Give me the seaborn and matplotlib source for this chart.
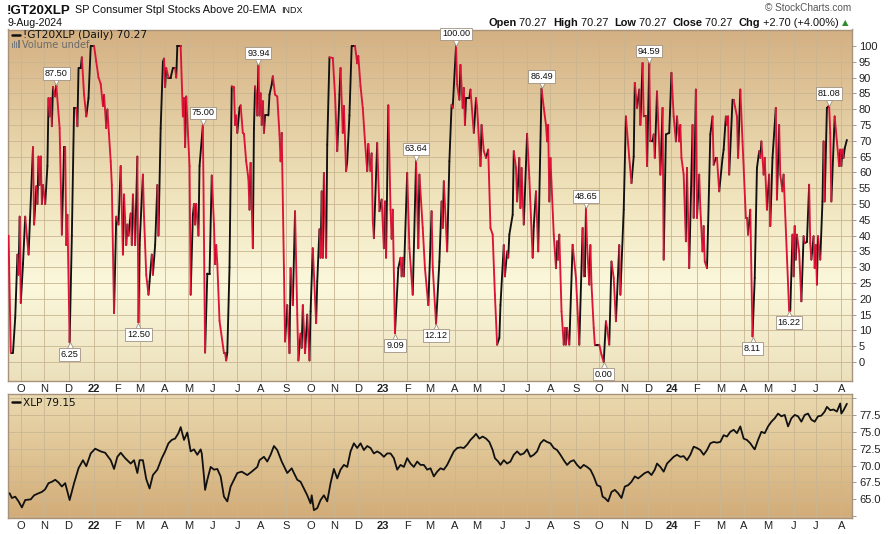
import numpy as np
import pandas as pd
import matplotlib
matplotlib.use("Agg")
import matplotlib.pyplot as plt
import seaborn as sns
from matplotlib.colors import LinearSegmentedColormap
from matplotlib.transforms import offset_copy
from matplotlib.patches import Rectangle
from matplotlib.lines import Line2D

# ---------------- data ----------------
start_date = "2021-09-16"
end_date = "2024-08-09"

gt_session = [0, 2, 4, 6, 8, 9, 10, 11, 13, 15, 18, 22, 23, 25, 26, 27, 28, 29, 30, 31, 33, 35, 36, 37, 38, 39, 40, 42, 43, 46,
              48, 50, 51, 52, 53, 55, 57, 59, 61, 62, 63, 65, 66, 68, 70, 72, 74, 77, 79, 81, 83, 85, 86, 88, 89, 92, 93, 95, 97, 99,
              101, 103, 104, 106, 107, 108, 110, 111, 112, 114, 116, 117, 118, 121, 122, 124, 126, 127, 129, 130, 132, 134, 135, 137, 139, 140, 141, 142, 144, 146,
              148, 150, 151, 152, 155, 157, 158, 159, 160, 163, 164, 166, 167, 168, 169, 171, 172, 175, 177, 179, 181, 183, 185, 186, 187, 188, 190, 194, 195, 196,
              197, 199, 201, 203, 204, 205, 206, 208, 209, 211, 212, 214, 216, 217, 218, 220, 221, 222, 223, 224, 225, 226, 227, 228, 229, 230, 231, 234, 235, 237,
              238, 240, 242, 244, 245, 246, 248, 249, 251, 253, 254, 256, 258, 260, 261, 263, 264, 265, 267, 269, 271, 272, 274, 277, 278, 280, 281, 282, 283, 284,
              286, 287, 289, 292, 294, 296, 298, 299, 301, 302, 304, 305, 307, 309, 312, 314, 315, 317, 319, 321, 323, 324, 326, 327, 328, 329, 332, 334, 336, 338,
              339, 340, 342, 344, 345, 346, 348, 351, 353, 354, 355, 356, 359, 361, 364, 367, 369, 370, 373, 375, 378, 381, 382, 385, 388, 390, 391, 392, 395, 397,
              399, 400, 403, 404, 406, 407, 409, 410, 411, 412, 415, 416, 419, 421, 422, 425, 426, 428, 430, 432, 434, 436, 438, 440, 442, 443, 446, 447, 449, 450,
              451, 454, 455, 457, 458, 460, 461, 462, 464, 467, 469, 472, 473, 475, 477, 480, 482, 484, 485, 486, 487, 488, 491, 493, 494, 495, 496, 498, 500, 501,
              502, 503, 505, 508, 511, 514, 517, 518, 519, 520, 521, 523, 524, 525, 527, 528, 530, 532, 534, 536, 538, 539, 541, 543, 545, 547, 550, 551, 554, 556,
              559, 561, 563, 564, 566, 568, 569, 571, 572, 574, 575, 577, 578, 580, 581, 582, 584, 587, 589, 590, 592, 595, 597, 599, 601, 602, 604, 605, 606, 608,
              610, 611, 613, 616, 617, 619, 620, 622, 623, 625, 626, 627, 629, 630, 632, 634, 635, 637, 638, 640, 643, 644, 646, 647, 648, 649, 652, 653, 656, 657,
              659, 661, 664, 665, 666, 668, 670, 672, 674, 676, 677, 678, 680, 681, 683, 685, 686, 688, 691, 692, 694, 695, 697, 698, 703, 704, 706, 707, 708, 709,
              710, 712, 714, 716, 717, 719, 721, 722, 723, 725, 726, 727, 728, 729, 731, 733, 734, 735, 737, 739, 740, 741, 744, 746, 748, 749, 750, 751, 752, 753, 755]
gt_value = [40, 3, 3, 14, 34, 27.6, 46, 18.7, 31, 46, 34, 68, 43.5, 55.6, 50, 65, 56, 65, 50, 56, 50, 62, 83.5, 77.7, 83.5, 74.6, 87, 84, 87.5, 74,
            40.3, 68, 68, 37, 46.6, 6.25, 40, 80.4, 80.4, 74.6, 93, 93, 96.4, 84.6, 77.7, 83.5, 100, 100, 95, 90, 88, 81, 84.5, 74, 79.9, 63.5, 56, 15.5, 46, 43.5,
            62, 34, 53, 37, 43.5, 40, 47, 37, 53, 37, 65, 12.5, 37, 59.3, 46, 27.6, 21.3, 25.5, 34, 27.6, 37, 56, 40, 74, 95, 96, 87, 93, 90, 90,
            93, 93, 90, 100, 100, 77.7, 83.5, 68, 84, 62, 21.3, 46.6, 50, 43.5, 50, 40, 62, 75, 3, 28, 28, 59, 43.5, 31, 37, 31, 13, 2.8, 2.8, 0.5,
            3, 30, 87.2, 87, 75, 78, 72.5, 80.4, 81.2, 72.5, 72.2, 63.5, 58, 48.2, 63, 36, 74, 87.2, 84.6, 78, 93.94, 78, 85, 75, 82.5, 72.5, 78, 78, 84.6, 87.8,
            90.4, 84.6, 84, 72, 63.5, 72.5, 29.7, 6.5, 18, 2.8, 29.7, 18, 47.7, 15, 0.5, 9, 4.5, 18, 2.8, 15, 0.5, 16, 36, 12.3, 25.5, 42, 33, 54, 33, 59.8,
            33, 68.7, 96.4, 96.2, 84.6, 66.7, 84.6, 93, 72.5, 81, 60.4, 63.5, 78, 100, 100, 94.5, 96.8, 87.2, 80.4, 69.8, 60.4, 69, 60.4, 66, 45, 39.2, 69.3, 47.7, 51.4, 36,
            50.8, 33, 81.2, 48.2, 39, 48.2, 9.09, 29.7, 33, 27.1, 33, 27.1, 59.8, 36, 21.3, 63.64, 36, 59.3, 42.4, 29.7, 18, 47.7, 30, 12.12, 31.8, 50.8, 42.4, 57.2, 35, 63.5,
            81.4, 80.4, 100, 87.8, 83, 94, 80.4, 86.7, 75, 83.5, 83.5, 86.2, 72.5, 83.5, 80.4, 62, 75, 66.7, 64.6, 67.2, 42.4, 40.3, 21.3, 5.5, 7.6, 18, 37, 27.1, 35, 33,
            40.3, 46.6, 66.7, 61.4, 50.8, 64.6, 48.7, 61.4, 43.5, 72.2, 58.2, 33, 43, 54, 35, 86.49, 80.4, 75, 69.8, 75, 50.8, 64.6, 40.3, 29.7, 38.2, 32.4, 40.3, 16, 5.5, 10.8,
            5.5, 10.8, 5.5, 37.1, 26.6, 5.5, 42.4, 27.1, 27.1, 48.65, 37, 24.5, 37, 24.5, 10.8, 5.5, 5.5, 5.5, 2.3, 0, 12.9, 10.8, 5.5, 31.8, 26.6, 12.9, 37, 21.3, 48.2, 77.7,
            64.6, 56.6, 65, 88.3, 80.4, 86.2, 75, 94.6, 77.7, 77.7, 62, 94.59, 69.8, 69.8, 72, 64.6, 85.6, 59.3, 80.4, 32.4, 72, 72.5, 91.5, 77.7, 69.8, 77.7, 69.8, 75, 64.6, 59.3,
            38.2, 61.4, 29.7, 75, 45.6, 86.2, 45.6, 59.3, 48.7, 35, 43, 31.8, 29.7, 43, 72, 77.7, 62.4, 64.6, 64.6, 54, 64.6, 67.2, 77.7, 75, 77.7, 59.3, 83, 83, 77.7, 64.6,
            86.2, 69.8, 45.6, 45.6, 40.3, 48.2, 8.11, 26.6, 61.4, 66.7, 64.6, 69.8, 59.3, 64.6, 48.2, 59.3, 43, 64.6, 80.4, 51.4, 75, 59.3, 54, 59.3, 16.22, 16.2, 40.3, 27.1, 43, 32.4,
            40.3, 35, 19.2, 39.8, 37.6, 38, 56.1, 37.6, 32.4, 39.8, 29.7, 37, 24.5, 39.8, 32.4, 50.8, 69.8, 50.8, 80.4, 81.08, 72.5, 50.8, 77.7, 69.8, 62, 67.2, 62, 67.2, 64.6, 67.57, 70.27]

xlp_session = [1, 3, 6, 9, 12, 15, 20, 23, 27, 30, 33, 36, 39, 42, 45, 48, 51, 55, 59, 63, 67, 70, 74, 78, 83, 87, 92, 95, 98, 101,
               105, 110, 113, 116, 118, 121, 124, 127, 130, 134, 138, 141, 144, 147, 150, 153, 155, 158, 161, 164, 167, 170, 173, 174, 176, 177, 179, 182, 185, 188,
               191, 194, 197, 200, 203, 206, 210, 215, 219, 224, 226, 230, 233, 236, 239, 242, 246, 251, 255, 257, 260, 263, 266, 269, 272, 273, 275, 278, 281, 284,
               287, 290, 293, 296, 299, 302, 305, 308, 311, 314, 317, 320, 323, 326, 329, 332, 335, 338, 341, 344, 347, 350, 353, 356, 359, 362, 365, 368, 371, 374,
               377, 380, 383, 386, 389, 392, 395, 398, 401, 404, 407, 410, 413, 416, 419, 421, 424, 427, 430, 433, 436, 438, 441, 443, 446, 449, 452, 455, 458, 461,
               464, 467, 470, 473, 476, 479, 482, 485, 488, 491, 494, 497, 500, 503, 506, 509, 512, 515, 518, 521, 524, 527, 530, 533, 535, 537, 540, 543, 546, 549,
               552, 555, 558, 561, 564, 567, 570, 573, 576, 579, 582, 584, 587, 590, 593, 596, 599, 602, 605, 608, 611, 614, 617, 620, 623, 626, 629, 632, 635, 638,
               641, 644, 647, 650, 653, 656, 659, 662, 665, 668, 671, 672, 675, 678, 681, 684, 687, 690, 693, 696, 699, 702, 705, 708, 711, 714, 717, 720, 723, 726,
               729, 732, 735, 737, 740, 743, 746, 749, 750, 752, 755]
xlp_value = [65.9, 65.2, 65.4, 64.7, 63.8, 64.9, 65.0, 65.6, 65.9, 66.1, 66.5, 67.4, 67.6, 67.9, 67.5, 66.9, 67.4, 64.9, 67.4, 69.6, 70.8, 69.9, 71.8, 72.5, 72.1, 71.9, 70.8, 69.5, 71.3, 71.9,
             71.1, 70.3, 70.8, 68.9, 70.8, 70.8, 68.0, 66.6, 68.6, 69.4, 71.1, 72.1, 73.3, 73.8, 74.0, 74.8, 75.7, 73.8, 74.9, 72.1, 72.4, 71.6, 72.4, 71.8, 68.4, 66.4, 67.9, 69.8, 69.4, 69.5,
             68.4, 65.4, 64.7, 66.9, 67.9, 68.9, 69.1, 68.6, 69.1, 69.8, 70.8, 71.3, 70.6, 71.6, 72.9, 72.3, 70.6, 68.9, 69.6, 68.9, 67.9, 67.6, 66.6, 65.6, 64.4, 65.6, 63.4, 63.7, 64.9, 65.6,
             64.7, 67.4, 69.5, 68.1, 69.4, 70.1, 69.8, 72.1, 73.3, 72.6, 73.3, 72.3, 72.9, 72.6, 71.8, 72.1, 71.8, 71.3, 71.8, 71.8, 71.1, 69.4, 70.1, 69.8, 71.1, 70.3, 69.8, 70.6, 70.1, 70.1,
             69.4, 69.6, 68.4, 69.1, 69.6, 69.4, 70.1, 71.1, 72.1, 72.6, 72.7, 72.6, 73.1, 73.8, 74.3, 74.7, 74.0, 74.3, 74.0, 73.5, 72.3, 71.1, 70.6, 70.1, 70.8, 70.3, 70.6, 71.6, 72.1, 71.6,
             71.8, 72.4, 71.3, 71.6, 72.1, 73.3, 73.8, 73.5, 73.3, 72.6, 72.3, 71.6, 70.8, 70.1, 70.6, 70.8, 70.1, 69.6, 70.1, 69.8, 69.4, 68.4, 67.1, 66.9, 65.4, 65.2, 64.7, 66.1, 66.4, 65.9,
             65.2, 66.9, 67.1, 67.6, 68.4, 68.1, 68.5, 68.9, 69.1, 68.6, 69.4, 70.3, 69.8, 69.1, 70.3, 70.8, 71.3, 71.6, 71.3, 71.4, 70.8, 71.6, 72.8, 72.6, 72.3, 71.6, 72.3, 73.3, 73.5, 73.4,
             73.5, 74.5, 74.3, 75.0, 75.3, 74.8, 75.8, 74.0, 73.8, 73.3, 72.6, 72.4, 73.8, 75.0, 74.8, 75.8, 76.5, 77.0, 77.7, 77.3, 77.5, 75.8, 77.0, 77.5, 77.3, 76.5, 77.5, 77.7, 76.8, 76.5,
             77.3, 77.4, 78.0, 78.7, 78.2, 78.3, 78.0, 79.2, 77.7, 78.2, 79.15]

label_session = [43, 55, 117, 175, 225, 348, 367, 385, 403, 480, 520, 536, 577, 670, 703, 739]
label_kind = ["peak", "trough", "trough", "peak", "peak", "trough", "peak", "trough", "peak", "peak", "peak", "trough", "peak", "trough", "trough", "peak"]

gt_ticks = list(range(0, 101, 5))
xlp_ticks = [62.5, 65.0, 67.5, 70.0, 72.5, 75.0, 77.5, 80.0]

# ---------------- style ----------------
sns.set_style("white")
plt.rcParams["font.family"] = ["Liberation Sans", "DejaVu Sans"]

W, H = 889, 534
fig = plt.figure(figsize=(W / 100, H / 100), dpi=100)
fig.patch.set_facecolor("white")


def px_axes(x0, y0, x1, y1):
    return fig.add_axes([x0 / W, 1 - y1 / H, (x1 - x0) / W, (y1 - y0) / H])


ax1 = px_axes(8, 29.5, 852, 381)
ax2 = px_axes(8, 394, 852, 518)


def background(ax, stops):
    cmap = LinearSegmentedColormap.from_list("bg", stops)
    ax.imshow(np.linspace(0, 1, 256)[:, None], cmap=cmap, aspect="auto", extent=(0, 1, 0, 1),
              transform=ax.transAxes, origin="lower", zorder=0, interpolation="bilinear")


background(ax1, [(0.0, "#ece0bc"), (0.27, "#fbf8dc"), (0.55, "#efe2ba"), (1.0, "#d4b082")])
background(ax2, [(0.0, "#d2ac78"), (0.5, "#dfc393"), (1.0, "#eadab0")])

dates = pd.bdate_range(start_date, end_date)
n = len(dates)
month_idx = [i for i in range(1, n) if dates[i].month != dates[i - 1].month]
month_lbl = [dates[i].strftime("%y") if dates[i].month == 1 else dates[i].strftime("%b")[0] for i in month_idx]

# segments coloured by direction (falling segments drawn last, on top)
rows = []
for i in range(len(gt_session) - 1):
    d = "up" if gt_value[i + 1] >= gt_value[i] else "down"
    rows.append((i, gt_session[i], gt_value[i], d))
    rows.append((i, gt_session[i + 1], gt_value[i + 1], d))
segdf = pd.DataFrame(rows, columns=["seg", "session", "value", "dir"])
sns.lineplot(data=segdf[segdf["dir"] == "up"], x="session", y="value", units="seg", estimator=None,
             color="#111111", linewidth=1.35, legend=False, ax=ax1, zorder=3)
sns.lineplot(data=segdf[segdf["dir"] == "down"], x="session", y="value", units="seg", estimator=None,
             color="#dc1438", linewidth=1.35, legend=False, ax=ax1, zorder=4)

xlpdf = pd.DataFrame({"session": xlp_session, "close": xlp_value})
sns.lineplot(data=xlpdf, x="session", y="close", color="#111111", linewidth=1.3, ax=ax2, zorder=3)

grid_c = "#c9b692"
for ax in (ax1, ax2):
    ax.set_xlim(-0.5, 759.6)
    ax.set_xlabel("")
    ax.set_ylabel("")
    ax.set_xticks(month_idx)
    ax.set_xticklabels(month_lbl)
    for lbl, t in zip(month_lbl, ax.get_xticklabels()):
        if lbl.isdigit():
            t.set_fontweight("bold")
    ax.yaxis.tick_right()
    ax.tick_params(axis="x", length=0, pad=2.5, labelsize=8, colors="#222222")
    ax.tick_params(axis="y", length=3, width=0.6, color="#8a8a8a", pad=2, labelsize=8, labelcolor="#222222")
    ax.grid(True, color=grid_c, linewidth=0.6)
    ax.set_axisbelow(True)
    for sp in ax.spines.values():
        sp.set_color("#a8927c")
        sp.set_linewidth(1.0)

ax1.set_ylim(-6.0, 105.2)
ax1.set_yticks(gt_ticks)
ax1.set_yticklabels([str(t) for t in gt_ticks])

ax2.set_ylim(62.24, 80.6)
ax2.set_yticks(xlp_ticks)
ax2.set_yticklabels(["" if (t < 64 or t > 79) else f"{t:.1f}" for t in xlp_ticks])

# value labels
val_map = dict(zip(gt_session, gt_value))
box_kw = dict(boxstyle="square,pad=0.2", fc="white", ec="#a09282", lw=0.6)
for s, k in zip(label_session, label_kind):
    v = val_map[s]
    sgn = 1 if k == "peak" else -1
    mtr = offset_copy(ax1.transData, fig=fig, x=0, y=sgn * 3.2, units="dots")
    ax1.plot([s], [v], marker="v" if k == "peak" else "^", ms=5, mfc="white", mec="#a09282",
             mew=0.6, transform=mtr, zorder=5, ls="none")
    ttr = offset_copy(ax1.transData, fig=fig, x=0, y=sgn * 7.5, units="dots")
    ax1.text(s, v, f"{v:.2f}", transform=ttr, ha="center", va="bottom" if k == "peak" else "top",
             fontsize=6.6, color="#111111", bbox=box_kw, zorder=6)

# ---------------- header texts ----------------
renderer = fig.canvas.get_renderer()


def put(x, y, s, **kw):
    return fig.text(x / W, 1 - y / H, s, va="baseline", **kw)


def width(t):
    return t.get_window_extent(renderer).width


t = put(7, 13.5, "!GT20XLP", fontsize=9.6, fontweight="bold", color="#111111")
x = 7 + width(t) + 4
t = put(x, 13, "SP Consumer Stpl Stocks Above 20-EMA", fontsize=7.8, color="#111111")
x += width(t) + 5
put(x, 13, "INDX", fontsize=6.5, color="#111111")
put(7, 26, "9-Aug-2024", fontsize=7.6, color="#111111")

put(851, 11, "\u00a9 StockCharts.com", fontsize=7.2, color="#555555", ha="right")

pieces = [("Open", True), (" 70.27", False), ("High", True), (" 70.27", False), ("Low", True),
          (" 70.27", False), ("Close", True), (" 70.27", False), ("Chg", True), (" +2.70 (+4.00%)", False)]
texts = []
for s, b in pieces:
    texts.append(put(0, 25.5, s, fontsize=7.9, fontweight="bold" if b else "normal", color="#111111"))
gaps = [0, 0, 6, 0, 6, 0, 6, 0, 6, 0]
total = sum(width(tt) for tt in texts) + sum(gaps) + 12
x = 851 - total
for tt, g in zip(texts, gaps):
    x += g
    tt.set_x(x / W)
    x += width(tt)
put(x + 3, 25.5, "\u25b2", fontsize=6, color="#2e8b2e", family="DejaVu Sans")

# legends inside panels
fig.add_artist(Line2D([11.5 / W, 19.5 / W], [1 - 35 / H] * 2, color="#111111", lw=1.8))
put(23, 38.5, "!GT20XLP (Daily) 70.27", fontsize=7.7, color="#111111", family="DejaVu Sans")
for i, hgt in enumerate([5, 7, 6, 8]):
    fig.add_artist(Rectangle(((11.5 + i * 2.2) / W, 1 - 48.5 / H), 1.5 / W, hgt / H, color="#7a7a7a", lw=0))
put(21.5, 48.5, "Volume undef", fontsize=7.0, color="#6a6a6a", family="DejaVu Sans")

fig.add_artist(Line2D([11.5 / W, 19.5 / W], [1 - 402 / H] * 2, color="#111111", lw=1.8))
put(23, 405.5, "XLP 79.15", fontsize=7.6, color="#111111", family="DejaVu Sans")

fig.savefig("out.png", dpi=100)
